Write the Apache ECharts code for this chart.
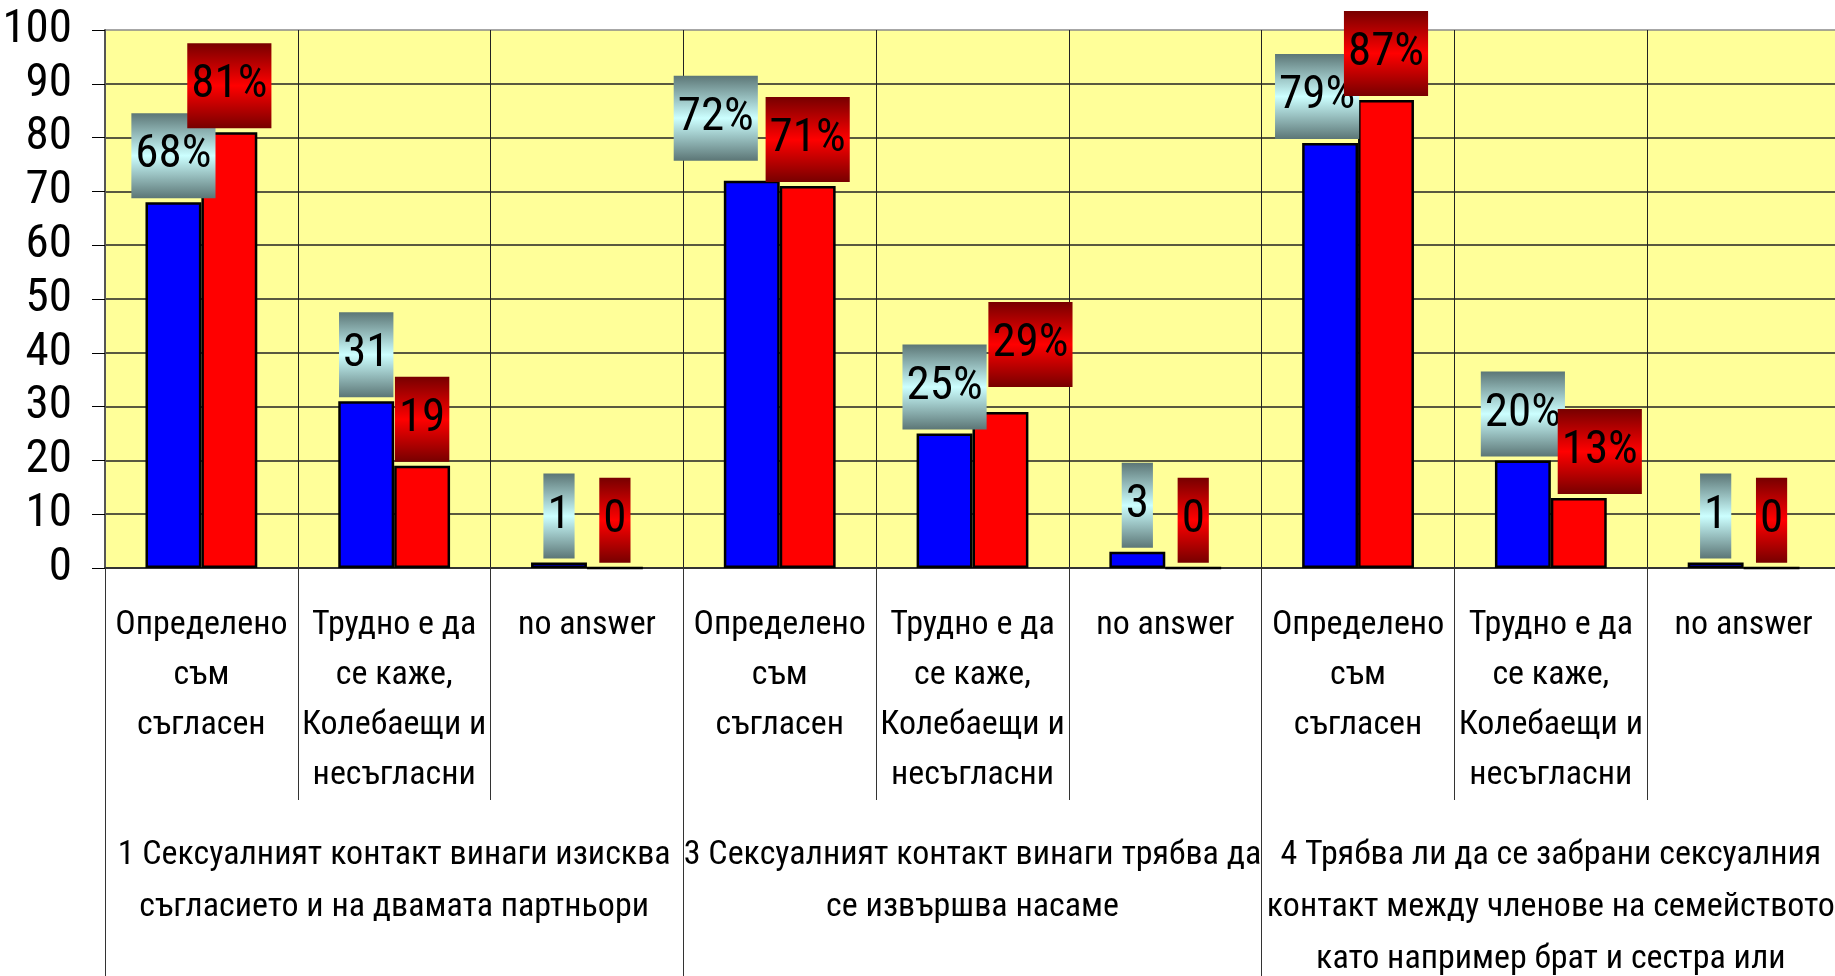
<!DOCTYPE html>
<html>
<head>
<meta charset="utf-8">
<title>chart</title>
<script src="https://cdn.jsdelivr.net/npm/echarts@6/dist/echarts.min.js"></script>
<style>
  html, body { margin: 0; padding: 0; background: #fff; }
  #main { width: 1835px; height: 976px; }
</style>
</head>
<body>
<div id="main"></div>
<script>
// категории по оста X
const categories = [
  'Определено\nсъм\nсъгласен', 'Трудно е да\nсе каже,\nКолебаещи и\nнесъгласни', 'no answer',
  'Определено\nсъм\nсъгласен', 'Трудно е да\nсе каже,\nКолебаещи и\nнесъгласни', 'no answer',
  'Определено\nсъм\nсъгласен', 'Трудно е да\nсе каже,\nКолебаещи и\nнесъгласни', 'no answer'
];
const groups = [
  '1 Сексуалният контакт винаги изисква\nсъгласието и на двамата партньори',
  '3 Сексуалният контакт винаги трябва да\nсе извършва насаме',
  '4 Трябва ли да се забрани сексуалния\nконтакт между членове на семейството\nкато например брат и сестра или'
];
const blueValues = [68, 31, 1, 72, 25, 3, 79, 20, 1];
const redValues  = [81, 19, 0, 71, 29, 0, 87, 13, 0];
const blueLabels = ['68%', '31', '1', '72%', '25%', '3', '79%', '20%', '1'];
const redLabels  = ['81%', '19', '0', '71%', '29%', '0', '87%', '13%', '0'];

// ръчно преместени етикети (както в оригинала)
const blueShift = { 3: [-36, -16], 6: [-13, 0] };
const redShift  = { 4: [30, -21], 7: [21, 0] };

const FONT = '"Roboto Condensed", "Liberation Sans", Arial, sans-serif';

const chart = echarts.init(document.getElementById('main'));

function grad(edge, mid) {
  return new echarts.graphic.LinearGradient(0, 0, 0, 1, [
    { offset: 0, color: edge },
    { offset: 0.5, color: mid },
    { offset: 1, color: edge }
  ]);
}

function makeData(values, shift) {
  return values.map((v, i) => {
    const item = { value: v };
    if (shift[i]) item.label = { offset: shift[i] };
    return item;
  });
}

function labelStyle(texts, bg) {
  return {
    show: true,
    position: 'top',
    distance: 4,
    formatter: p => texts[p.dataIndex],
    fontFamily: FONT,
    fontSize: 47,
    color: '#000',
    backgroundColor: bg,
    padding: [19, 4],
    lineHeight: 47
  };
}

const yLineColors = ['#222', '#222', '#222', '#222', '#222', '#222', '#222', '#222', '#222', '#222', '#8a8a8a'];

chart.setOption({
  backgroundColor: '#fff',
  animation: false,
  grid: {
    left: 105, right: -5, top: 30, bottom: 408,
    outerBoundsMode: 'none',
    containLabel: false,
    show: true, backgroundColor: '#ffff99', borderWidth: 0
  },
  xAxis: [
    {
      type: 'category',
      data: categories,
      position: 'bottom',
      axisLine: { show: true, lineStyle: { color: '#333', width: 2 } },
      axisTick: { show: true, interval: 0, length: 232, lineStyle: { color: '#333', width: 1 } },
      splitLine: { show: true, interval: 0, lineStyle: { color: '#222', width: 1 } },
      axisLabel: {
        interval: 0, margin: 32,
        fontFamily: FONT, fontSize: 34, lineHeight: 50, color: '#000'
      }
    },
    {
      type: 'category',
      data: groups,
      position: 'bottom',
      axisLine: { show: false },
      axisTick: { show: true, interval: 0, length: 408, lineStyle: { color: '#333', width: 1 } },
      splitLine: { show: false },
      axisLabel: {
        interval: 0, margin: 261,
        fontFamily: FONT, fontSize: 34, lineHeight: 52, color: '#000'
      }
    }
  ],
  yAxis: {
    type: 'value',
    min: 0, max: 100, interval: 10,
    axisLine: { show: true, lineStyle: { color: '#555', width: 2 } },
    axisTick: { show: true, length: 13, lineStyle: { color: '#000', width: 1 } },
    splitLine: { show: true, lineStyle: { color: yLineColors, width: 1.5 } },
    axisLabel: { margin: 33, fontFamily: FONT, fontSize: 47, color: '#000' }
  },
  series: [
    {
      name: 'blue',
      type: 'bar',
      xAxisIndex: 0,
      barGap: '0%',
      barCategoryGap: '42%',
      itemStyle: { color: '#0000ff', borderColor: '#000', borderWidth: 2.5 },
      label: labelStyle(blueLabels, grad('#5c7676', '#ccffff')),
      data: makeData(blueValues, blueShift)
    },
    {
      name: 'red',
      type: 'bar',
      xAxisIndex: 0,
      itemStyle: { color: '#ff0000', borderColor: '#000', borderWidth: 2.5 },
      label: labelStyle(redLabels, grad('#770000', '#ff0000')),
      data: makeData(redValues, redShift)
    }
  ]
});
</script>
</body>
</html>
